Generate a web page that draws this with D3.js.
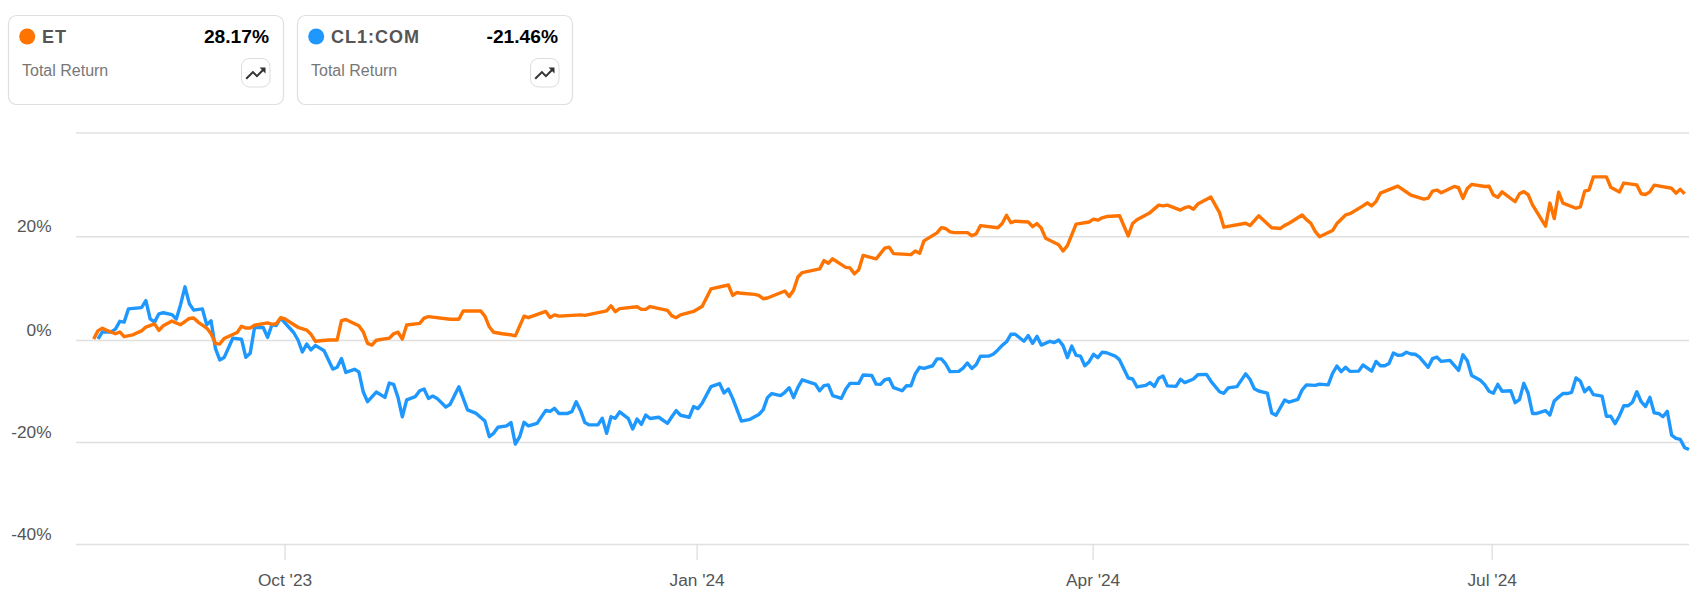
<!DOCTYPE html>
<html>
<head>
<meta charset="utf-8">
<script src="https://cdn.jsdelivr.net/npm/d3@7"></script>
<style>
html,body{margin:0;padding:0;background:#fff}
svg{display:block}
text{font-family:"Liberation Sans",Arial,sans-serif}
</style>
</head>
<body>
<div id="chart"></div>
<script>
const etDays=[0,1,2,3,5,6,7,9,11,12,14,15,16,18,20,22,23,24,26,27,28,29,30,33,34,35,36,37,40,41,42,43,44,47,49,50,51,54,56,57,58,61,62,63,64,65,68,69,70,71,72,75,76,77,82,84,85,89,90,91,92,94,96,97,99,100,104,105,106,107,112,113,118,119,120,121,125,126,127,128,132,133,134,135,138,140,142,146,147,148,149,152,153,154,155,159,160,161,162,163,167,168,169,170,173,174,175,176,177,180,182,183,184,188,189,190,191,194,195,196,197,198,201,202,203,204,208,209,210,211,212,215,216,217,218,219,222,223,224,226,229,230,231,232,233,236,238,239,240,243,245,246,247,250,251,252,253,254,257,259,260,265,266,268,271,273,274,275,278,279,280,281,282,285,286,288,289,292,293,294,295,296,300,303,306,307,308,309,310,313,314,315,316,317,320,321,322,323,324,327,328,329,330,331,334,335,336,337,338,341,342,343,344,345,348,349,351,352,355,356,357,358,359,363,364,365,366];
const etValues=[0.2,1.8,2.25,1.85,1.2,1.55,0.65,1.0,1.75,2.5,3.1,1.85,2.75,3.65,2.95,4.15,4.25,3.45,2.3,1.2,-0.65,-0.8,0.3,1.45,2.65,2.3,2.3,2.85,3.3,3.0,3.15,4.3,4.05,2.45,1.9,1.1,-0.25,0,0,3.75,3.95,2.75,1.6,-0.65,-1.0,-0.05,0.35,1.2,1.5,0.2,2.9,3.2,4.2,4.5,4.0,4.0,5.6,5.6,4.6,2.55,1.5,1.2,1.0,0.8,4.6,4.3,5.5,4.35,4.85,4.6,4.85,4.75,5.6,6.6,5.45,6.05,6.4,5.9,5.9,6.45,5.7,4.65,4.3,4.85,5.5,6.5,9.85,10.6,8.6,9.15,9.0,8.8,8.6,7.95,8.1,9.45,8.4,9.6,12.15,13.0,13.7,15.3,14.8,15.65,14.0,13.9,12.75,13.55,16.3,15.65,17.7,17.9,16.65,16.45,17.15,16.7,19.1,20.65,21.65,21.5,20.85,20.7,20.7,20.1,20.45,22.05,21.65,22.45,24.05,22.6,22.9,22.75,21.85,22.45,21.55,19.6,18.35,17.15,18.2,22.35,22.75,23.3,23.1,23.55,23.8,23.95,20.05,22.45,23.2,24.55,26.0,25.85,26.0,25.05,25.5,25.7,25.2,26.2,27.55,24.55,21.75,22.5,22.05,23.95,21.65,21.5,22.1,22.5,24.1,23.2,22.5,20.95,19.9,21.1,22.45,24.1,24.35,25.85,26.45,25.85,26.7,28.3,29.65,27.95,27.15,27.35,28.7,28.9,28.4,29.6,29.35,27.3,29.2,30.0,29.6,29.65,27.95,27.5,28.55,26.65,28.2,28.6,28.0,26.05,21.95,26.4,23.4,28.5,26.4,25.4,25.65,28.7,28.9,31.45,31.45,29.45,28.55,30.25,29.9,28.2,28.05,28.55,29.85,29.25,28.3,29.05,28.17];
const clDays=[1,2,4,5,6,7,8,11,12,13,14,15,16,18,19,20,21,22,23,25,26,27,28,29,30,32,34,35,36,37,39,40,41,42,43,46,47,48,49,50,51,53,55,56,57,58,60,61,62,63,65,67,68,69,70,71,72,74,75,76,77,78,79,81,82,84,86,88,90,91,92,93,95,96,97,98,99,100,102,104,105,106,107,109,110,111,112,113,114,116,117,118,119,120,121,123,124,125,126,127,128,130,132,133,134,135,137,138,139,140,142,144,145,146,147,149,151,153,154,155,156,158,159,160,161,162,163,166,167,168,169,170,172,173,174,176,177,179,180,181,182,183,184,186,187,188,189,190,191,193,194,195,196,197,199,200,201,202,203,204,206,207,208,209,210,211,212,214,215,216,217,218,220,221,222,223,224,225,226,227,228,229,230,231,232,233,235,236,238,239,240,242,243,244,245,246,247,249,250,251,253,254,256,257,259,260,261,263,265,266,267,268,270,271,272,274,275,277,278,279,281,282,284,285,286,287,288,289,291,292,294,295,296,297,298,299,300,301,302,303,304,305,307,308,309,310,312,314,315,316,317,319,320,321,322,323,324,326,327,328,329,330,331,332,334,335,336,337,338,339,340,341,342,343,344,345,347,348,349,350,351,352,353,354,355,356,357,358,359,360,361,362,363,364,365,366,367];
const clValues=[0.2,1.55,1.55,2.1,3.6,3.45,6.0,6.25,7.6,4.05,3.45,5.05,5.25,4.9,4.05,6.85,10.25,7.0,5.75,6.0,2.95,3.7,-1.65,-3.9,-3.45,0.35,0.15,-3.4,-2.6,2.4,2.4,0.5,2.95,2.8,4.2,1.45,0,-2.35,-0.8,-1.95,-1.05,-2.1,-5.7,-5.35,-3.65,-6.35,-5.75,-6.25,-10.15,-12.1,-10.2,-11.25,-8.45,-8.7,-11.25,-15.05,-11.75,-11.1,-9.95,-9.6,-11.45,-11,-11.45,-13.15,-12.6,-9.15,-13.7,-14.4,-15.9,-18.95,-18.3,-17.1,-16.85,-16.2,-20.4,-18.95,-16.15,-16.85,-16.35,-13.8,-14,-13.4,-14.4,-14.4,-14.05,-12.1,-13.85,-16.2,-16.65,-16.65,-15.35,-18.3,-15.05,-15.35,-14.1,-15.4,-17.45,-15.5,-16.55,-14.7,-15.4,-15.15,-16.35,-15.05,-13.85,-14.75,-15.15,-13.05,-13.45,-12.35,-9.15,-8.55,-10.4,-9.6,-11.45,-15.9,-15.55,-14.6,-13.7,-11.3,-10.5,-10.9,-10.25,-9.35,-11.3,-9.3,-7.8,-8.65,-9.95,-8.95,-8.8,-10.9,-11.45,-9.65,-8.5,-8.5,-6.85,-6.95,-8.65,-8.7,-7.8,-7.6,-9.35,-9.95,-8.95,-9.0,-6.65,-5.35,-5.55,-5.05,-3.7,-3.7,-4.7,-6.2,-6.15,-5.5,-4.5,-5.6,-4.85,-3.2,-3.15,-2.75,-1.95,-1.05,-0.35,1.1,1.1,-0.25,0.85,-0.65,0.7,-1,-0.25,-0.5,0,-1.1,-3.45,-1.2,-3.0,-3.15,-5.05,-4.25,-2.8,-3.45,-2.4,-2.5,-3.15,-3.9,-7.45,-7.65,-9.2,-8.9,-8.35,-9.1,-7.5,-7.05,-9.0,-9.1,-7.7,-8.35,-7.65,-6.8,-6.75,-8.05,-10.15,-10.45,-9.4,-9.15,-6.65,-7.7,-9.55,-10,-10.4,-14.3,-14.75,-11.75,-12.2,-11.65,-9.8,-8.8,-8.9,-8.65,-8.8,-6.55,-5.1,-6.2,-5.35,-6.15,-6.1,-4.9,-6.1,-4.2,-5.05,-5.05,-4.6,-2.55,-3.0,-2.95,-2.4,-2.75,-2.8,-3.35,-5.35,-3.65,-3.35,-4.2,-4,-5.95,-2.9,-4.05,-6.95,-7.9,-8.75,-10.05,-10.45,-8.7,-10.05,-9.95,-12.3,-11.7,-8.5,-10.45,-14.4,-14.4,-13.85,-14.7,-11.95,-11.2,-10.5,-10.5,-10.25,-7.45,-8.05,-10.15,-9.3,-10.7,-11,-14.95,-14.95,-16.4,-14.85,-12.9,-12.9,-12.2,-10.15,-12.1,-13.05,-11.25,-14.3,-14.4,-15.05,-14,-18.65,-19.3,-19.5,-21.1,-21.46];
const yTicks=[-40,-20,0,20,40];
const yLabels=["-40%","-20%","0%","20%",""];
const xTickDays=[43.9,138.7,229.8,321.6];
const xTickLabels=["Oct '23","Jan '24","Apr '24","Jul '24"];
const cardNames=["ET","CL1:COM"];
const cardReturns=["28.17%","-21.46%"];
const cardMetric="Total Return";
const colors=["#ff7300","#1e98ff"];

const W=1704,H=605;
const svg=d3.select("#chart").append("svg").attr("width",W).attr("height",H);
const x=d3.scaleLinear().domain([0,367]).range([93.7,1689]);
const y=d3.scaleLinear().domain([-40,0,40]).range([544,340,132.5]);
const gridL=76,gridR=1689;

// Cards
const cards=svg.selectAll("g.card").data(cardNames).join("g").attr("class","card")
  .attr("transform",(d,i)=>`translate(${i===0?8.5:297.5},15.5)`);
cards.append("rect").attr("width",275).attr("height",89).attr("rx",8)
  .attr("fill","#fff").attr("stroke","#dfdfdf").attr("stroke-width",1.2);
cards.append("circle").attr("cx",18.7).attr("cy",21).attr("r",8).attr("fill",(d,i)=>colors[i]);
cards.append("text").attr("x",33.5).attr("y",27).attr("font-size",18).attr("font-weight",700)
  .attr("letter-spacing",1).attr("fill","#555").text(d=>d);
cards.append("text").attr("x",260.5).attr("y",27).attr("text-anchor","end").attr("font-size",19.2)
  .attr("font-weight",700).attr("fill","#000").text((d,i)=>cardReturns[i]);
cards.append("text").attr("x",13.5).attr("y",60.5).attr("font-size",16).attr("fill","#777").text(cardMetric);
cards.append("rect").attr("x",233).attr("y",43).attr("width",28.5).attr("height",28.5).attr("rx",8)
  .attr("fill","#fff").attr("stroke","#dcdcdc").attr("stroke-width",1);
cards.append("path").attr("transform","translate(235,46)")
  .attr("d","M16 6l2.29 2.29-4.88 4.88-4-4L2 16.59 3.41 18l6-6 4 4 6.3-6.29L22 12V6z").attr("fill","#333");

// Y axis and grid
const yAxis=d3.axisLeft(y).tickValues(yTicks).tickSize(gridL-gridR).tickFormat((d,i)=>yLabels[i]);
const gy=svg.append("g").attr("transform",`translate(${gridL},0)`).call(yAxis);
gy.select(".domain").remove();
gy.selectAll(".tick line").attr("x1",0).attr("x2",gridR-gridL).attr("stroke","#e0e0e0").attr("stroke-width",1.6);
gy.selectAll(".tick text").attr("x",-24.5).attr("dy",null).attr("y",-4.5).attr("text-anchor","end")
  .attr("font-size",17.3).attr("font-family",'"Liberation Sans",Arial,sans-serif').attr("fill","#555");

// X axis
const xAxis=d3.axisBottom(x).tickValues(xTickDays).tickSize(16).tickPadding(0).tickFormat((d,i)=>xTickLabels[i]);
const gx=svg.append("g").attr("transform","translate(0,544)").call(xAxis);
gx.select(".domain").remove();
gx.selectAll(".tick line").attr("stroke","#dcdcdc").attr("stroke-width",1.2);
gx.selectAll(".tick text").attr("y",42).attr("dy",null).attr("font-size",17.3)
  .attr("font-family",'"Liberation Sans",Arial,sans-serif').attr("fill","#555");

// Lines
const line=d3.line().x(d=>x(d[0])).y(d=>y(d[1]));
const series=[d3.zip(clDays,clValues),d3.zip(etDays,etValues)];
svg.selectAll("path.series").data(series).join("path").attr("class","series")
  .attr("d",line).attr("fill","none").attr("stroke",(d,i)=>i===0?colors[1]:colors[0])
  .attr("stroke-width",3.4).attr("stroke-linejoin","round");
</script>
</body>
</html>
